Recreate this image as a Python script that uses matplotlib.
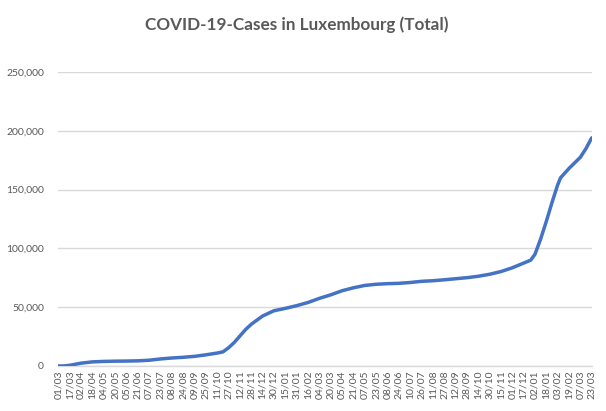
import numpy as np
import pandas as pd
import matplotlib
matplotlib.use('Agg')
import matplotlib.pyplot as plt
import matplotlib.dates as mdates
from matplotlib.ticker import FuncFormatter

plt.rcParams['font.family'] = ['Lato', 'DejaVu Sans']

# cumulative cases
dates = ['2020-03-01', '2020-03-09', '2020-03-17', '2020-04-02', '2020-04-18', '2020-05-04',
         '2020-05-20', '2020-06-05', '2020-06-21', '2020-07-07', '2020-07-23', '2020-08-08',
         '2020-08-24', '2020-09-09', '2020-09-25', '2020-10-11', '2020-10-19', '2020-10-27',
         '2020-11-04', '2020-11-12', '2020-11-20', '2020-11-28', '2020-12-14', '2020-12-30',
         '2021-01-15', '2021-01-31', '2021-02-16', '2021-03-04', '2021-03-20', '2021-04-05',
         '2021-04-21', '2021-05-07', '2021-05-23', '2021-06-08', '2021-06-24', '2021-07-10',
         '2021-07-26', '2021-08-11', '2021-08-27', '2021-09-12', '2021-09-28', '2021-10-14',
         '2021-10-30', '2021-11-15', '2021-12-01', '2021-12-17', '2021-12-27', '2022-01-02',
         '2022-01-10', '2022-01-18', '2022-01-26', '2022-02-03', '2022-02-07', '2022-02-19',
         '2022-03-07', '2022-03-15', '2022-03-23']
cases = [0, 50, 600, 2400, 3500, 3900,
         4100, 4200, 4400, 4900, 6000, 6800,
         7400, 8200, 9500, 11000, 12000, 15500,
         20000, 25500, 31000, 35500, 42500, 47000,
         49000, 51300, 54000, 57500, 60500, 64000,
         66500, 68500, 69500, 70000, 70300, 71000,
         72000, 72500, 73300, 74200, 75100, 76300,
         78000, 80300, 83500, 87500, 90000, 95000,
         108000, 123000, 139000, 154000, 160000, 168000,
         177500, 185000, 194000]

title = 'COVID-19-Cases in Luxembourg (Total)'
grey = '#595959'
grid = '#D9D9D9'

x = pd.to_datetime(dates)
fig = plt.figure(figsize=(6.06, 4.11), dpi=100)
ax = fig.add_axes([0.0957, 0.1095, 0.8813, 0.7153])

ax.plot(x, cases, color='#4472C4', lw=2.5, solid_capstyle='round', solid_joinstyle='round', zorder=3)

# ticks every 16 days like the source
ticks = pd.date_range(dates[0], dates[-1], freq='16D')
ax.set_xticks(ticks)
ax.xaxis.set_major_formatter(mdates.DateFormatter('%d/%m'))
ax.set_xlim(x[0] - pd.Timedelta(hours=12), x[-1] + pd.Timedelta(hours=12))
ax.set_ylim(0, 250000)
ax.set_yticks(np.arange(0, 250001, 50000))
ax.yaxis.set_major_formatter(FuncFormatter(lambda v, p: f'{int(v):,}'))

ax.grid(axis='y', color=grid, lw=1)
ax.set_axisbelow(True)
for s in ['top', 'right', 'left']:
    ax.spines[s].set_visible(False)
ax.spines['bottom'].set_color(grid)
ax.spines['bottom'].set_linewidth(1)
ax.tick_params(length=0, colors=grey, labelsize=7.5)
ax.tick_params(axis='x', rotation=90, pad=3)
ax.tick_params(axis='y', pad=10)

fig.text(0.49, 0.94, title, ha='center', va='center', fontsize=12.3, color=grey, fontweight='bold')

fig.savefig('out.png', dpi=100, facecolor='white')
